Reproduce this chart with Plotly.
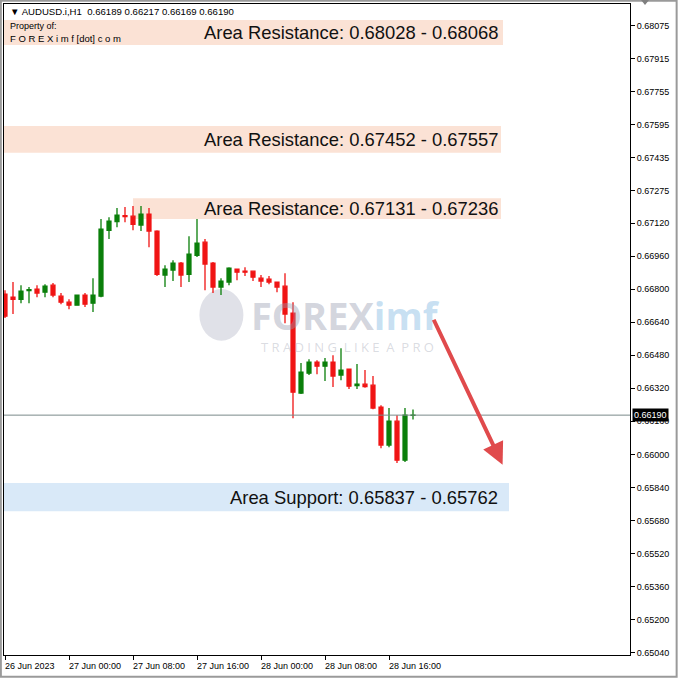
import pandas as pd
import plotly.graph_objects as go

# ---------------- data ----------------
start_time = "2023-06-26 16:00"
opens  = [0.66776,0.66761,0.66751,0.66793,0.66800,0.66785,0.66819,0.66766,0.66737,0.66722,
          0.66771,0.66732,0.66766,0.67085,0.67127,0.67156,0.67153,0.67110,0.67163,0.67081,
          0.66868,0.66892,0.66926,0.66872,0.66964,0.67027,0.66926,0.66810,0.66834,0.66897,
          0.66887,0.66887,0.66853,0.66848,0.66834,0.66814,0.66684,0.66297,0.66393,0.66447,
          0.66427,0.66447,0.66384,0.66413,0.66333,0.66340,0.66335,0.66229,0.66045,0.66161,
          0.65972,0.66189]
highs  = [0.66795,0.66834,0.66819,0.66810,0.66819,0.66824,0.66829,0.66781,0.66751,0.66774,
          0.66781,0.66853,0.67139,0.67148,0.67192,0.67197,0.67202,0.67202,0.67192,0.67085,
          0.66916,0.66940,0.66931,0.67056,0.67139,0.67042,0.66931,0.66853,0.66906,0.66899,
          0.66906,0.66887,0.66868,0.66863,0.66836,0.66877,0.66737,0.66442,0.66461,0.66456,
          0.66466,0.66480,0.66514,0.66413,0.66437,0.66408,0.66379,0.66238,0.66224,0.66190,
          0.66224,0.66217]
lows   = [0.66660,0.66679,0.66732,0.66732,0.66761,0.66761,0.66761,0.66727,0.66703,0.66720,
          0.66713,0.66689,0.66761,0.67042,0.67100,0.67124,0.67085,0.67081,0.67003,0.66863,
          0.66810,0.66839,0.66810,0.66834,0.66955,0.66795,0.66781,0.66771,0.66819,0.66843,
          0.66863,0.66839,0.66810,0.66824,0.66785,0.66635,0.66175,0.66292,0.66384,0.66388,
          0.66355,0.66326,0.66359,0.66316,0.66316,0.66323,0.66219,0.66030,0.66035,0.65958,
          0.65963,0.66169]
closes = [0.66669,0.66751,0.66790,0.66797,0.66781,0.66814,0.66771,0.66737,0.66722,0.66771,
          0.66727,0.66771,0.67090,0.67129,0.67158,0.67151,0.67114,0.67163,0.67081,0.66872,
          0.66897,0.66926,0.66868,0.66969,0.67023,0.66921,0.66810,0.66839,0.66902,0.66882,
          0.66882,0.66858,0.66839,0.66834,0.66810,0.66679,0.66301,0.66398,0.66447,0.66427,
          0.66447,0.66379,0.66408,0.66330,0.66340,0.66328,0.66224,0.66045,0.66161,0.65972,
          0.66190,0.66190]

current_price = 0.66190
y_ticks = [0.68075,0.67915,0.67755,0.67595,0.67435,0.67275,0.67120,0.66960,0.66800,0.66640,
           0.66480,0.66320,0.66160,0.66000,0.65840,0.65680,0.65520,0.65360,0.65200,0.65040]
x_tick_times = ["2023-06-26 16:00","2023-06-27 00:00","2023-06-27 08:00","2023-06-27 16:00",
                "2023-06-28 00:00","2023-06-28 08:00","2023-06-28 16:00"]
x_tick_labels = ["26 Jun 2023","27 Jun 00:00","27 Jun 08:00","27 Jun 16:00",
                 "28 Jun 00:00","28 Jun 08:00","28 Jun 16:00"]

zone_labels = ["Area Resistance: 0.68028 - 0.68068","Area Resistance: 0.67452 - 0.67557",
               "Area Resistance: 0.67131 - 0.67236","Area Support: 0.65837 - 0.65762"]
zone_low  = [0.67981,0.67460,0.67139,0.65725]
zone_high = [0.68102,0.67590,0.67240,0.65861]
zone_start_h = [-1.0,-1.0,16.0,-1.0]     # hours after start_time
zone_end_h   = [62.25,62.0,62.0,63.0]
zone_text_end_h = [61.9,61.9,61.9,61.9]
zone_colors = ["#FBE2D5","#FBE2D5","#FBE2D5","#D9E9F8"]

arrow_from = (53.5, 0.66659)   # (hours after start, price)
arrow_to   = (62.2, 0.65950)

# ---------------- figure ----------------
t0 = pd.Timestamp(start_time)
times = pd.date_range(t0, periods=len(opens), freq="h")
H = lambda h: t0 + pd.Timedelta(hours=h)

fig = go.Figure()
fig.add_trace(go.Candlestick(
    x=times, open=opens, high=highs, low=lows, close=closes,
    increasing=dict(line=dict(color="#0A7F0A", width=1.3), fillcolor="#0A7F0A"),
    decreasing=dict(line=dict(color="#F01414", width=1.3), fillcolor="#F01414"),
    whiskerwidth=0, showlegend=False, hoverinfo="skip"))

shapes = []
annotations = []
for lab, lo, hi, s, e, te, c in zip(zone_labels, zone_low, zone_high, zone_start_h,
                                     zone_end_h, zone_text_end_h, zone_colors):
    shapes.append(dict(type="rect", xref="x", yref="y", x0=H(s), x1=H(e), y0=lo, y1=hi,
                       fillcolor=c, line=dict(width=0), layer="below"))
    annotations.append(dict(x=H(te), y=(lo + hi) / 2, xref="x", yref="y", text=lab,
                            showarrow=False, xanchor="right", yanchor="middle",
                            font=dict(family="Liberation Sans", size=18.4, color="#111111")))

# current price line
shapes.append(dict(type="line", xref="paper", yref="y", x0=0, x1=1, y0=current_price,
                   y1=current_price, line=dict(color="#7A8A8A", width=1)))
# outer frame
shapes.append(dict(type="rect", xref="paper", yref="paper", x0=-0.005, x1=1.0745,
                   y0=-0.0335, y1=1.005, line=dict(color="#9A9A9A", width=2)))
# small shift marker at top right
shapes.append(dict(type="path", xref="paper", yref="paper",
                   path="M 1.0176,1.0061 L 1.0304,1.0061 L 1.024,0.9985 Z",
                   fillcolor="#808080", line=dict(width=0)))

# watermark
shapes.append(dict(type="circle", xref="x", yref="y",
                   x0=H(24.3), x1=H(29.8), y0=0.66550, y1=0.66800,
                   fillcolor="rgba(160,165,185,0.33)", line=dict(width=0), layer="below"))
annotations.append(dict(x=H(30.5), y=0.66675, xref="x", yref="y", showarrow=False,
                        xanchor="left", yanchor="middle",
                        text="<b><span style='color:rgba(150,155,175,0.42)'>FOREX</span>"
                             "<span style='color:rgba(120,180,225,0.42)'>imf</span></b>",
                        font=dict(family="Open Sans", size=38)))
annotations.append(dict(x=H(31.7), y=0.66520, xref="x", yref="y", showarrow=False,
                        xanchor="left", yanchor="middle",
                        text="T R A D I N G  L I K E  A  P R O",
                        font=dict(family="Open Sans", size=13, color="rgba(160,165,180,0.4)")))

# arrow
annotations.append(dict(x=H(arrow_to[0]), y=arrow_to[1], ax=H(arrow_from[0]), ay=arrow_from[1],
                        xref="x", yref="y", axref="x", ayref="y", showarrow=True, text="",
                        arrowhead=2, arrowsize=1.1, arrowwidth=4, arrowcolor="#E04A4C"))

# header texts
annotations.append(dict(x=0.006, y=0.9995, xref="paper", yref="paper", showarrow=False,
                        xanchor="left", yanchor="top",
                        text="▼ AUDUSD.i,H1  0.66189 0.66217 0.66169 0.66190",
                        font=dict(family="Liberation Sans", size=9.6, color="#000000")))
annotations.append(dict(x=0.006, y=0.977, xref="paper", yref="paper", showarrow=False,
                        xanchor="left", yanchor="top", text="Property of:",
                        font=dict(family="Liberation Sans", size=9, color="#000000")))
annotations.append(dict(x=0.006, y=0.959, xref="paper", yref="paper", showarrow=False,
                        xanchor="left", yanchor="top", text="F O R E X i m f [dot] c o m",
                        font=dict(family="Liberation Sans", size=9.5, color="#000000")))

# current price label
annotations.append(dict(x=1.0, y=current_price, xref="paper", yref="y", showarrow=False,
                        xanchor="left", yanchor="middle", xshift=2, text="0.66190",
                        bgcolor="#000000", borderpad=1,
                        font=dict(family="Liberation Sans", size=9, color="#FFFFFF")))

# x tick labels (left-aligned at tick)
for t, lab in zip(x_tick_times, x_tick_labels):
    annotations.append(dict(x=pd.Timestamp(t), y=0, xref="x", yref="paper", showarrow=False,
                            xanchor="left", yanchor="top", yshift=-4, xshift=-2, text=lab,
                            font=dict(family="Liberation Sans", size=9, color="#000000")))

fig.update_layout(
    width=678, height=678,
    margin=dict(l=4, r=48, t=4, b=23, autoexpand=False),
    paper_bgcolor="white", plot_bgcolor="white",
    shapes=shapes, annotations=annotations,
    xaxis=dict(range=[H(-0.125), H(78.125)], rangeslider=dict(visible=False),
               showgrid=False, zeroline=False, showline=True, mirror=True,
               linecolor="#000000", linewidth=1, automargin=False,
               tickvals=[pd.Timestamp(t) for t in x_tick_times],
               ticktext=["" for _ in x_tick_times],
               ticks="outside", ticklen=4, tickcolor="#000000"),
    yaxis=dict(range=[0.65029, 0.68180], side="right", showgrid=False, zeroline=False,
               showline=True, mirror=True, linecolor="#000000", linewidth=1, automargin=False,
               tickvals=y_ticks, ticktext=[f"{v:.5f}" for v in y_ticks],
               ticks="outside", ticklen=4, tickcolor="#000000",
               tickfont=dict(family="Liberation Sans", size=9, color="#000000")),
)

fig.write_html("out.html", config={"displayModeBar": False},
               post_script="document.body.style.margin='0';document.body.style.overflow='hidden';")
